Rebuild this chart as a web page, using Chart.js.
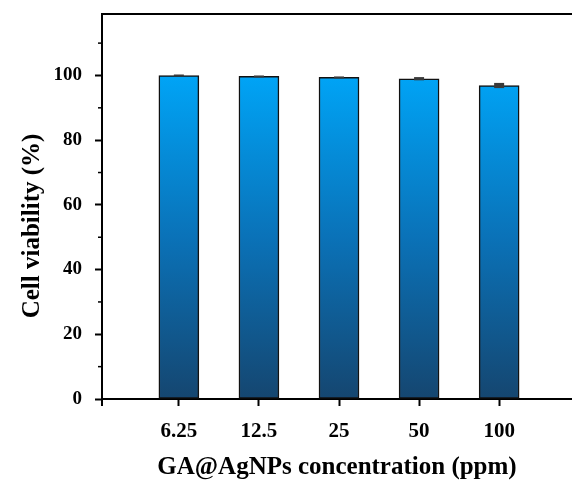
<!DOCTYPE html>
<html>
<head>
<meta charset="utf-8">
<script src="https://cdn.jsdelivr.net/npm/chart.js@4"></script>
<style>
  html, body { margin: 0; padding: 0; background: #fff; }
  #wrap { width: 572px; height: 481px; position: relative; }
</style>
</head>
<body>
<div id="wrap"><canvas id="viabilityChart"></canvas></div>
<script>
// concentrations (ppm) and their slot on the x axis
const concentrations = ['6.25', '12.5', '25', '50', '100'];
const slots = [1, 2, 3, 4, 5];
// cell viability (%) and error bar half-heights
const viability = [100.0, 99.7, 99.4, 99.0, 96.9];
const errors = [0.3, 0.3, 0.3, 0.5, 0.8];
const majorTicks = [0, 20, 40, 60, 80, 100];
const minorTicks = [10, 30, 50, 70, 90, 110];

const serif = 'Liberation Serif';

// gradient fill along each bar (light blue top -> navy bottom)
function barGradient(ctx) {
  const chart = ctx.chart;
  const y = chart.scales.y;
  if (!chart.chartArea || !y) return '#0a7fd0';
  const y0 = y.getPixelForValue(0);
  const y1 = y.getPixelForValue(100);
  if (!isFinite(y0) || !isFinite(y1)) return '#0a7fd0';
  const g = chart.ctx.createLinearGradient(0, y0, 0, y1);
  g.addColorStop(0, '#154670');
  g.addColorStop(0.5, '#0a72b8');
  g.addColorStop(1, '#00a4f6');
  return g;
}

// frame, minor ticks, error bars and y title
const extras = {
  id: 'extras',
  afterDatasetsDraw(chart) {
    const { ctx, chartArea: a, scales: { x, y } } = chart;
    ctx.save();
    ctx.strokeStyle = '#000';
    ctx.lineWidth = 2;
    // top border
    ctx.beginPath();
    ctx.moveTo(a.left, a.top);
    ctx.lineTo(a.right, a.top);
    ctx.stroke();
    // y axis line reaching below the x axis
    ctx.beginPath();
    ctx.moveTo(a.left, a.bottom);
    ctx.lineTo(a.left, a.bottom + 7);
    ctx.stroke();
    // minor ticks
    ctx.lineWidth = 1.5;
    minorTicks.forEach(v => {
      const py = y.getPixelForValue(v);
      ctx.beginPath();
      ctx.moveTo(a.left, py);
      ctx.lineTo(a.left - 4, py);
      ctx.stroke();
    });
    // error bars
    ctx.fillStyle = '#3a3a3a';
    viability.forEach((v, i) => {
      const px = x.getPixelForValue(slots[i]);
      const hi = y.getPixelForValue(v + errors[i]);
      const lo = y.getPixelForValue(v - errors[i]);
      ctx.fillRect(px - 5, hi, 10, Math.max(lo - hi, 2));
    });
    // y axis title
    ctx.fillStyle = '#000';
    ctx.font = 'bold 25px "' + serif + '"';
    ctx.textAlign = 'center';
    ctx.textBaseline = 'middle';
    ctx.translate(33, 226);
    ctx.rotate(-Math.PI / 2);
    ctx.fillText('Cell viability (%)', 0, 0);
    ctx.restore();
  }
};

new Chart(document.getElementById('viabilityChart').getContext('2d'), {
  type: 'bar',
  data: {
    datasets: [{
      data: slots.map((s, i) => ({ x: s, y: viability[i] })),
      backgroundColor: barGradient,
      borderColor: '#111',
      borderWidth: 1.5,
      borderSkipped: false,
      barThickness: 40
    }]
  },
  options: {
    responsive: true,
    maintainAspectRatio: false,
    animation: false,
    layout: { padding: { top: 14, right: 0, left: 0, bottom: 0 } },
    plugins: {
      legend: { display: false },
      tooltip: { enabled: false }
    },
    scales: {
      x: {
        type: 'linear',
        offset: false,
        min: 0.04,
        max: 5.91,
        afterBuildTicks: s => { s.ticks = slots.map(v => ({ value: v })); },
        afterFit: s => { s.height = 82; s.paddingLeft = 0; s.paddingRight = 0; },
        grid: {
          offset: false,
          drawOnChartArea: false,
          tickLength: 7,
          tickWidth: 2,
          tickColor: '#000'
        },
        border: { display: true, color: '#000', width: 2 },
        ticks: {
          color: '#000',
          padding: 13,
          maxRotation: 0,
          font: { family: serif, size: 21, weight: 'bold' },
          callback: v => concentrations[slots.indexOf(v)]
        },
        title: {
          display: true,
          text: 'GA@AgNPs concentration (ppm)',
          color: '#000',
          padding: { top: 0, bottom: -2 },
          font: { family: serif, size: 25, weight: 'bold' }
        }
      },
      y: {
        min: 0,
        max: 119,
        afterBuildTicks: s => { s.ticks = majorTicks.map(v => ({ value: v })); },
        afterFit: s => { s.width = 102; s.paddingTop = 0; s.paddingBottom = 0; },
        grid: {
          drawOnChartArea: false,
          tickLength: 7,
          tickWidth: 2,
          tickColor: '#000'
        },
        border: { display: true, color: '#000', width: 2 },
        ticks: {
          color: '#000',
          padding: 13,
          font: { family: serif, size: 19, weight: 'bold' }
        }
      }
    }
  },
  plugins: [extras]
});
</script>
</body>
</html>
